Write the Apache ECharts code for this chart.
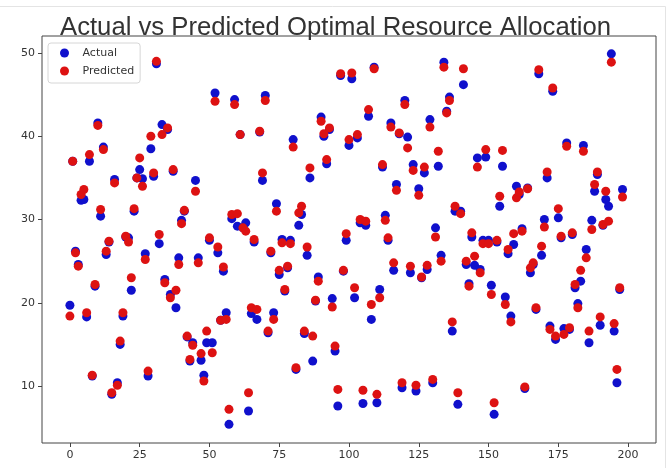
<!DOCTYPE html>
<html lang="en">
<head>
    <meta charset="UTF-8">
    <title>Actual vs Predicted Optimal Resource Allocation</title>
    <script src="https://cdn.jsdelivr.net/npm/echarts@6/dist/echarts.min.js"></script>
    <style>
        html, body { margin: 0; padding: 0; background: #fff; }
    </style>
</head>
<body>
    <div id="main" style="width: 669px;height:468px;"></div>
    <script type="text/javascript">
        // values, one entry per sample (index = x)
        var actual = [
            19.7, 37.0, 26.2, 24.6, 32.3, 32.4, 18.3, 37.0, 11.2, 22.0,
            41.6, 30.4, 38.7, 25.8, 27.3, 9.0, 34.8, 10.4, 15.0, 18.4,
            27.9, 27.8, 21.5, 31.0, 35.0, 36.0, 34.9, 25.9, 11.2, 38.5,
            35.2, 48.7, 27.1, 41.4, 22.8, 40.8, 21.0, 35.8, 19.4, 25.4,
            29.9, 31.0, 15.9, 13.0, 15.2, 34.7, 25.4, 13.1, 11.3, 15.2,
            27.5, 15.2, 45.2, 26.0, 17.9, 23.8, 18.8, 5.4, 30.1, 44.4,
            29.2, 40.2, 29.0, 29.6, 7.0, 18.7, 27.3, 18.0, 40.5, 34.7,
            44.9, 16.4, 26.0, 18.8, 31.9, 23.4, 27.6, 21.4, 24.2, 27.5,
            39.6, 12.0, 29.3, 30.6, 16.3, 25.7, 35.0, 13.0, 20.2, 23.1,
            42.3, 40.0, 36.7, 40.8, 20.5, 14.2, 7.6, 47.3, 23.8, 27.5,
            38.9, 46.9, 20.6, 39.8, 29.6, 7.9, 29.3, 42.4, 18.0, 48.3,
            8.0, 21.6, 36.3, 30.5, 27.5, 41.6, 23.9, 34.2, 40.3, 9.8,
            44.3, 39.9, 23.6, 36.6, 9.4, 33.7, 23.0, 35.6, 24.0, 42.0,
            10.4, 29.0, 36.4, 25.7, 48.9, 43.0, 44.7, 16.6, 31.0, 7.8,
            31.0, 46.2, 24.6, 22.3, 27.9, 24.5, 37.4, 24.0, 27.5, 37.5,
            27.5, 22.1, 6.6, 27.3, 31.6, 36.4, 20.7, 25.9, 18.4, 27.0,
            34.0, 33.0, 28.9, 9.7, 33.8, 23.6, 24.6, 19.2, 47.5, 25.7,
            30.0, 35.0, 17.2, 45.4, 15.6, 30.2, 27.8, 16.9, 39.2, 16.8,
            28.2, 21.8, 19.9, 22.6, 38.9, 26.4, 15.2, 29.9, 33.4, 35.4,
            17.3, 29.3, 32.4, 31.6, 49.9, 16.6, 10.4, 21.6, 33.6
        ];
        var predicted = [
            18.4, 37.0, 26.0, 24.4, 33.0, 33.6, 18.8, 37.8, 11.3, 22.2,
            41.3, 31.2, 38.4, 26.2, 27.4, 9.2, 34.4, 10.1, 15.4, 18.8,
            28.0, 27.3, 23.0, 31.3, 35.0, 37.4, 34.0, 25.2, 11.8, 40.0,
            35.6, 49.0, 28.2, 40.2, 22.4, 41.0, 20.6, 36.0, 21.5, 24.6,
            29.5, 31.1, 16.0, 13.2, 14.9, 33.4, 24.8, 13.9, 10.6, 16.6,
            27.8, 14.0, 44.2, 26.7, 17.9, 24.3, 18.0, 7.2, 30.6, 43.8,
            30.7, 40.2, 29.0, 28.6, 9.2, 19.4, 27.6, 19.2, 40.6, 35.6,
            44.3, 16.6, 26.2, 18.0, 31.0, 23.9, 27.2, 21.6, 24.4, 27.1,
            38.7, 12.2, 30.8, 31.6, 16.6, 26.7, 36.2, 16.0, 20.3, 22.6,
            41.8, 40.3, 37.2, 41.0, 19.5, 14.8, 9.6, 47.5, 23.9, 28.3,
            39.6, 47.6, 21.8, 40.2, 30.0, 9.5, 29.8, 43.2, 19.8, 48.1,
            9.0, 20.6, 36.6, 29.9, 27.8, 41.1, 24.8, 33.5, 40.4, 10.4,
            43.8, 38.6, 24.4, 35.9, 10.1, 32.9, 23.1, 36.3, 24.5, 41.1,
            10.8, 27.9, 38.2, 25.0, 48.3, 42.8, 44.3, 17.7, 31.6, 9.2,
            30.7, 48.1, 25.0, 22.0, 28.4, 25.6, 36.3, 23.6, 27.1, 38.4,
            27.1, 21.0, 8.0, 27.5, 32.8, 38.3, 19.8, 26.4, 17.7, 28.3,
            32.6, 33.3, 28.6, 9.9, 33.7, 24.2, 24.8, 19.4, 48.0, 26.8,
            29.1, 35.7, 16.8, 45.8, 16.0, 31.3, 28.0, 16.2, 38.8, 17.0,
            28.4, 22.2, 19.4, 23.9, 38.2, 25.4, 16.6, 28.8, 34.2, 35.7,
            18.3, 29.4, 33.4, 29.8, 48.9, 17.5, 12.0, 21.8, 32.7
        ];
        var xTicks = [0, 25, 50, 75, 100, 125, 150, 175, 200];
        var yTicks = [10, 20, 30, 40, 50];

        var myChart = echarts.init(document.getElementById('main'));

        var toPoints = function (arr) {
            return arr.map(function (v, i) { return [i, v]; });
        };

        var labelStyle = {
            color: '#333',
            fontSize: 11,
            fontFamily: 'DejaVu Sans'
        };

        myChart.setOption({
            animation: false,
            backgroundColor: '#fff',
            // faint frame of the original screenshot
            graphic: [
                { type: 'line', shape: { x1: 0, y1: 6.5, x2: 665.5, y2: 6.5 }, style: { stroke: '#e4e4e4', lineWidth: 1 } },
                { type: 'line', shape: { x1: 665.5, y1: 6.5, x2: 665.5, y2: 468 }, style: { stroke: '#e4e4e4', lineWidth: 1 } }
            ],
            title: {
                text: 'Actual vs Predicted Optimal Resource Allocation',
                left: 55,
                top: 10,
                textStyle: {
                    color: '#333',
                    fontSize: 25.7,
                    fontWeight: 'normal',
                    fontFamily: 'Liberation Sans'
                }
            },
            legend: {
                orient: 'vertical',
                left: 48,
                top: 43,
                icon: 'circle',
                itemWidth: 26,
                itemHeight: 9,
                itemGap: 6,
                padding: [4, 6, 6, 12],
                borderColor: '#d6d6d6',
                borderWidth: 1,
                borderRadius: 3,
                textStyle: Object.assign({ lineHeight: 12 }, labelStyle),
                data: ['Actual', 'Predicted']
            },
            grid: {
                left: 42,
                right: 13,
                top: 36,
                bottom: 25,
                show: true,
                borderColor: '#444',
                borderWidth: 1
            },
            xAxis: {
                type: 'value',
                min: -10,
                max: 210,
                splitLine: { show: false },
                axisLine: { show: false, onZero: false },
                axisTick: {
                    show: true,
                    length: 4,
                    lineStyle: { color: '#444' },
                    customValues: xTicks
                },
                axisLabel: Object.assign({ margin: 7, customValues: xTicks }, labelStyle)
            },
            yAxis: {
                type: 'value',
                min: 3.16,
                max: 52.04,
                splitLine: { show: false },
                axisLine: { show: false, onZero: false },
                axisTick: {
                    show: true,
                    length: 4,
                    lineStyle: { color: '#444' },
                    customValues: yTicks
                },
                axisLabel: Object.assign({ margin: 7, customValues: yTicks }, labelStyle)
            },
            series: [
                {
                    name: 'Actual',
                    type: 'scatter',
                    symbolSize: 9,
                    itemStyle: { color: '#1010cc', opacity: 1 },
                    data: toPoints(actual)
                },
                {
                    name: 'Predicted',
                    type: 'scatter',
                    symbolSize: 9,
                    itemStyle: { color: '#dd1212', opacity: 1 },
                    data: toPoints(predicted)
                }
            ]
        });
    </script>
</body>
</html>
